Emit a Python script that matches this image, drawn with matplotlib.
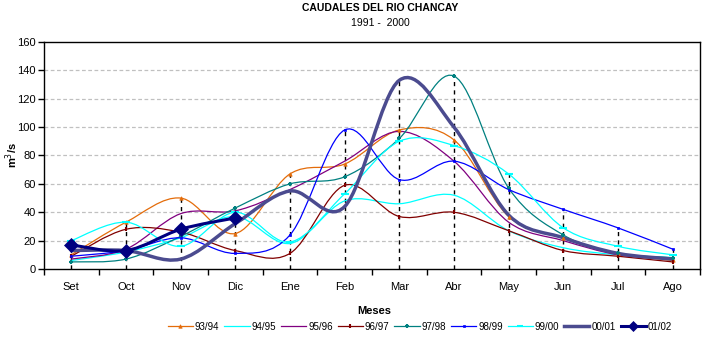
import numpy as np
import matplotlib
matplotlib.use('Agg')
import matplotlib.pyplot as plt
from matplotlib.path import Path
from matplotlib.patches import PathPatch
from matplotlib.lines import Line2D

plt.rcParams['font.family'] = ['Liberation Sans', 'DejaVu Sans']

# months (september to august)
meses = ['Set', 'Oct', 'Nov', 'Dic', 'Ene', 'Feb', 'Mar', 'Abr', 'May', 'Jun', 'Jul', 'Ago']

# caudales m3/s per hydrological year
q_9394 = [10, 33, 50, 25, 67, 74, 98, 91, 37, 22, 11, 6]
q_9495 = [6, 12, 22, 37, 18, 48, 46, 52, 27, 15, 10, 8]
q_9596 = [7, 14, 39, 41, 56, 76, 97, 76, 33, 20, 10, 7]
q_9697 = [9, 28, 26, 13, 11, 59, 37, 40, 27, 13, 9, 5]
q_9798 = [5, 7, 23, 43, 60, 65, 92, 136, 57, 24, 11, 8]
q_9899 = [9, 13, 22, 11, 24, 98, 63, 76, 56, 42, 29, 14]
q_9900 = [20, 33, 16, 40, 19, 53, 90, 87, 67, 29, 16, 10]
q_0001 = [13, 13, 7, 32, 55, 44, 133, 100, 38, 22, 11, 7]
q_0102 = [17, 13, 28, 36]

series = [
    ('93/94', q_9394, '#E46C0A', 0.9, '^', 2.5),
    ('94/95', q_9495, '#00FFFF', 0.9, None, 0),
    ('95/96', q_9596, '#800080', 0.9, None, 0),
    ('96/97', q_9697, '#800000', 0.9, '|', 3),
    ('97/98', q_9798, '#008080', 0.9, '+', 3),
    ('98/99', q_9899, '#0000FF', 0.9, 's', 2),
    ('99/00', q_9900, '#00FFFF', 0.9, '_', 6),
    ('00/01', q_0001, '#4B4B8F', 2.5, None, 0),
    ('01/02', q_0102, '#000080', 2.2, 'D', 7),
]


def smooth_path(y):
    # Excel-like smoothed line: cubic bezier through every data point
    x = np.arange(len(y), dtype=float)
    y = np.asarray(y, dtype=float)
    pts = np.column_stack([x, y])
    verts = [pts[0]]
    codes = [Path.MOVETO]
    n = len(pts)
    for i in range(n - 1):
        p0 = pts[i - 1] if i > 0 else pts[i]
        p1 = pts[i]
        p2 = pts[i + 1]
        p3 = pts[i + 2] if i + 2 < n else pts[i + 1]
        c1 = p1 + (p2 - p0) / 6.0
        c2 = p2 - (p3 - p1) / 6.0
        verts += [c1, c2, p2]
        codes += [Path.CURVE4] * 3
    return Path(verts, codes)


fig = plt.figure(figsize=(7.08, 3.4), dpi=100)
ax = fig.add_axes([0.0621, 0.2088, 0.9266, 0.6677])

# drop lines from highest value
allvals = np.array([s[1] + [0] * (12 - len(s[1])) for s in series])
tops = allvals.max(axis=0)
ax.vlines(np.arange(12), 0, tops, colors='black', linestyles=(0, (3, 3)),
          linewidth=1.0, zorder=1)

handles = []
for name, vals, col, lw, mk, ms in series:
    patch = PathPatch(smooth_path(vals), facecolor='none', edgecolor=col,
                      linewidth=lw, zorder=3, capstyle='round')
    ax.add_patch(patch)
    if mk:
        ax.plot(np.arange(len(vals)), vals, linestyle='none', marker=mk,
                markersize=ms, color=col, markeredgewidth=1.5 if mk in '|+_' else 0.5,
                zorder=4)
    handles.append(Line2D([], [], color=col, linewidth=lw, marker=mk,
                          markersize=min(ms, 5),
                          markeredgewidth=1.5 if mk and mk in '|+_' else 0.5))

ax.set_xlim(-0.5, 11.5)
ax.set_ylim(0, 160)
ax.set_yticks(np.arange(0, 161, 20))
ax.set_xticks(np.arange(-0.5, 12, 1))
ax.set_xticklabels([])
ax.set_xticks(np.arange(12), minor=True)
ax.set_xticklabels(meses, minor=True)
ax.tick_params(axis='x', which='minor', length=0, pad=9, labelsize=8)
ax.tick_params(axis='x', which='major', length=4, direction='out', width=1)
ax.tick_params(axis='y', length=4, direction='out', width=1, labelsize=8, pad=2)
for g in range(20, 160, 20):
    ax.axhline(g, color='#C0C0C0', linestyle=(0, (3, 2)), linewidth=0.9, zorder=0)
for sp in ax.spines.values():
    sp.set_linewidth(1.0)

fig.text(0.537, 0.99, 'CAUDALES DEL RIO CHANCAY', ha='center', va='top',
         fontsize=7.5, fontweight='bold')
fig.text(0.537, 0.948, '1991 -  2000', ha='center', va='top', fontsize=7.5)
fig.text(0.528, 0.085, 'Meses', ha='center', va='center', fontsize=8, fontweight='bold')
fig.text(0.016, 0.545, 'm$^3$/s', ha='center', va='center', rotation=90,
         fontsize=8, fontweight='bold')

ax.legend(handles, [s[0] for s in series], loc='center', ncol=9,
          bbox_to_anchor=(0.573, -0.255), frameon=False, fontsize=7,
          handlelength=2.6, handletextpad=0.2, columnspacing=0.5,
          borderpad=0.2)

fig.savefig('out.png', dpi=100)
